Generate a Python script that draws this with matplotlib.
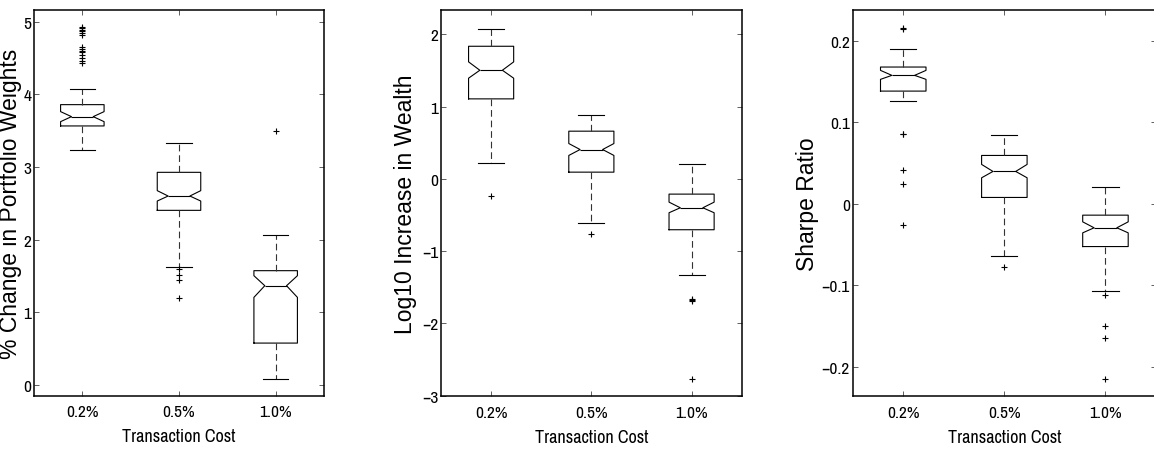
import matplotlib
matplotlib.use("Agg")
import matplotlib.pyplot as plt
from matplotlib import font_manager
from matplotlib.ticker import FixedLocator, FuncFormatter

# ---- data -------------------------------------------------------------
costs = ["0.2%", "0.5%", "1.0%"]

# % change in portfolio weights
pw_med = [3.693, 2.601, 1.367]
pw_q1 = [3.565, 2.404, 0.578]
pw_q3 = [3.858, 2.927, 1.574]
pw_cilo = [3.624, 2.532, 1.207]
pw_cihi = [3.762, 2.675, 1.505]
pw_wlo = [3.230, 1.620, 0.080]
pw_whi = [4.074, 3.331, 2.070]
pw_out = [
    [4.93, 4.91, 4.89, 4.87, 4.84, 4.81, 4.65, 4.62, 4.60, 4.58, 4.54, 4.50, 4.46, 4.43],
    [1.60, 1.52, 1.445, 1.193],
    [3.49],
]

# log10 increase in wealth
lw_med = [1.502, 0.405, -0.401]
lw_q1 = [1.106, 0.092, -0.705]
lw_q3 = [1.834, 0.659, -0.212]
lw_cilo = [1.392, 0.323, -0.470]
lw_cihi = [1.618, 0.488, -0.323]
lw_wlo = [0.221, -0.618, -1.332]
lw_whi = [2.078, 0.885, 0.198]
lw_out = [
    [-0.244],
    [-0.765],
    [-1.668, -1.678, -1.688, -2.774],
]

# Sharpe ratio
sr_med = [0.1575, 0.0397, -0.0294]
sr_q1 = [0.1382, 0.0078, -0.0524]
sr_q3 = [0.1677, 0.0593, -0.0139]
sr_cilo = [0.1526, 0.0319, -0.0356]
sr_cihi = [0.1636, 0.0483, -0.0221]
sr_wlo = [0.1260, -0.0642, -0.1063]
sr_whi = [0.1894, 0.0838, 0.0209]
sr_out = [
    [0.2151, 0.2146, 0.0858, 0.0852, 0.0413, 0.0249, -0.0254],
    [-0.0777],
    [-0.1121, -0.1493, -0.1640, -0.2147],
]

ylabels = ["% Change in Portfolio Weights", "Log10 Increase in Wealth", "Sharpe Ratio"]
xlabel = "Transaction Cost"

# ---- fonts --------------------------------------------------------------
# prefer a narrow sans for the horizontal texts when one is installed
narrow = None
for f in font_manager.fontManager.ttflist:
    if ("Narrow" in f.name or "Condensed" in f.name) and "Mono" not in f.name \
            and "Serif" not in f.name:
        narrow = f.name
        break
if narrow:
    h_family = [narrow, "Liberation Sans", "DejaVu Sans"]
    tick_size, xlab_size = 12.5, 13
else:
    h_family = ["Liberation Sans", "DejaVu Sans"]
    tick_size, xlab_size = 11, 11
plt.rcParams["font.family"] = h_family


def make_stats(med, q1, q3, cilo, cihi, wlo, whi, out):
    stats = []
    for i in range(len(med)):
        stats.append(dict(med=med[i], q1=q1[i], q3=q3[i], cilo=cilo[i], cihi=cihi[i],
                          whislo=wlo[i], whishi=whi[i], fliers=out[i], label=costs[i]))
    return stats


panels = [
    (make_stats(pw_med, pw_q1, pw_q3, pw_cilo, pw_cihi, pw_wlo, pw_whi, pw_out),
     (-0.15, 5.16), [0, 1, 2, 3, 4, 5]),
    (make_stats(lw_med, lw_q1, lw_q3, lw_cilo, lw_cihi, lw_wlo, lw_whi, lw_out),
     (-3.01, 2.34), [-3, -2, -1, 0, 1, 2]),
    (make_stats(sr_med, sr_q1, sr_q3, sr_cilo, sr_cihi, sr_wlo, sr_whi, sr_out),
     (-0.236, 0.238), [-0.2, -0.1, 0, 0.1, 0.2]),
]

W, H = 1154, 452
fig = plt.figure(figsize=(W / 100, H / 100), dpi=100)

# axes boxes in pixels: left, right, top, bottom
boxes_px = [(34, 324, 11, 397), (441, 741.7, 10.7, 397.3), (852.7, 1156, 10.7, 397.3)]
ylabel_x = [-0.040, -0.080, -0.112]


def fmt(v, _):
    s = "%g" % round(v, 6)
    return s.replace("-", "\u2212")


for k, ((stats, ylim, yt), (l, r, t, b)) in enumerate(zip(panels, boxes_px)):
    ax = fig.add_axes([l / W, 1 - b / H, (r - l) / W, (b - t) / H])
    ax.bxp(stats, positions=[1, 2, 3], widths=0.45, capwidths=0.26,
           shownotches=True, showfliers=True,
           boxprops=dict(color="black", linewidth=0.8),
           medianprops=dict(color="black", linewidth=0.8),
           whiskerprops=dict(color="#333333", linewidth=0.8, linestyle=(0, (6, 3.5))),
           capprops=dict(color="black", linewidth=0.8),
           flierprops=dict(marker="+", markersize=4.5, markeredgewidth=0.8,
                           markeredgecolor="black", linestyle="none"))
    ax.set_xlim(0.5, 3.5)
    ax.set_ylim(*ylim)
    ax.xaxis.set_major_locator(FixedLocator([1, 2, 3]))
    ax.set_xticklabels(costs)
    ax.yaxis.set_major_locator(FixedLocator(yt))
    ax.yaxis.set_major_formatter(FuncFormatter(fmt))
    ax.tick_params(direction="in", length=3.5, width=0.6, color="#444444",
                   top=True, right=True, labelsize=tick_size)
    ax.tick_params(axis="y", pad=2)
    ax.tick_params(axis="x", pad=6)
    for sp in ax.spines.values():
        sp.set_linewidth(1.1)
    ax.set_xlabel(xlabel, fontsize=xlab_size)
    ax.xaxis.set_label_coords(0.5, -0.084)
    ax.xaxis.label.set_va("top")
    ax.set_ylabel(ylabels[k], fontsize=16.5, family=["Liberation Sans", "DejaVu Sans"])
    ax.yaxis.set_label_coords(ylabel_x[k], 0.5)

fig.savefig("out.png", dpi=100)
